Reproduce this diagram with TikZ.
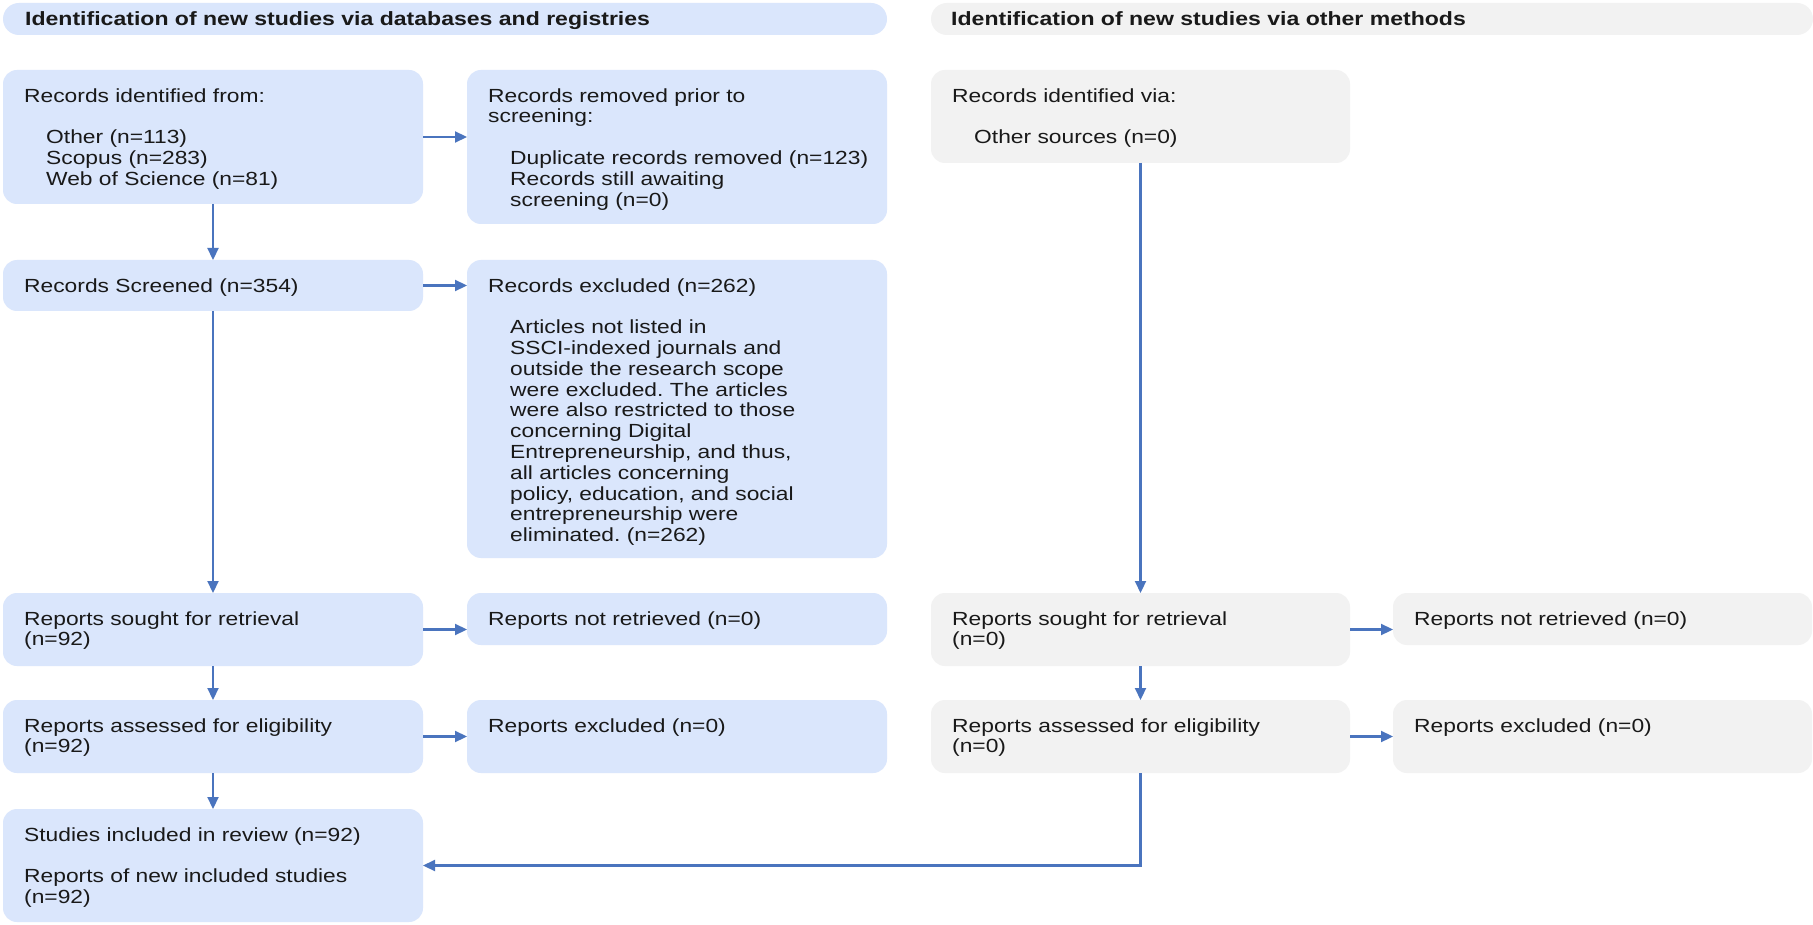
\documentclass[tikz,border=0pt]{standalone}
\usepackage{fontspec}
\setmainfont{Liberation Sans}[FakeStretch=1.2]
\usetikzlibrary{arrows.meta,calc}
\definecolor{boxblue}{HTML}{DAE6FC}
\definecolor{boxgrey}{HTML}{F2F2F2}
\definecolor{arrowblue}{HTML}{4A74BE}
\frenchspacing
\newcommand\bodyfont{\fontsize{19pt}{20.8pt}\selectfont\frenchspacing}
\newcommand\headfont{\fontsize{19.2pt}{22pt}\selectfont\bfseries}
\newcommand\ind{\hspace*{22pt}}
\tikzset{
  bluebox/.style={fill=boxblue, rounded corners=14pt, inner sep=0pt, outer sep=0pt, anchor=north west},
  greybox/.style={fill=boxgrey, rounded corners=14pt, inner sep=0pt, outer sep=0pt, anchor=north west},
  headblue/.style={fill=boxblue, rounded corners=16pt, inner sep=0pt, outer sep=0pt, anchor=north west, minimum height=32pt},
  headgrey/.style={fill=boxgrey, rounded corners=16pt, inner sep=0pt, outer sep=0pt, anchor=north west, minimum height=32pt},
  txt/.style={anchor=north west, align=left, inner sep=0pt, font=\bodyfont, text=black!90},
  htxt/.style={anchor=base west, inner sep=0pt, font=\headfont, text=black!90},
  arr/.style={draw=arrowblue, line width=2.2pt, -{Triangle[length=12pt,width=11pt]}}
}
\begin{document}
\begin{tikzpicture}[x=1pt,y=-1pt]
\useasboundingbox[fill=white] (0,0) rectangle (1813,925);
% headers
\node[headblue, minimum width=884pt] (H1) at (3,3) {};
\node[headgrey, minimum width=882pt] (H2) at (931,3) {};
\node[htxt] (h1t) at ([shift={(22,7)}]H1.west) {Identification of new studies via databases and registries};
\node[htxt] (h2t) at ([shift={(20,7)}]H2.west) {Identification of new studies via other methods};
% left column
\node[bluebox, minimum width=420pt, minimum height=134pt] (L1) at (3,70) {};
\node[bluebox, minimum width=420pt, minimum height=51pt] (L2) at (3,260) {};
\node[bluebox, minimum width=420pt, minimum height=73pt] (L3) at (3,593) {};
\node[bluebox, minimum width=420pt, minimum height=73pt] (L4) at (3,700) {};
\node[bluebox, minimum width=420pt, minimum height=113pt] (L5) at (3,809) {};
% middle column
\node[bluebox, minimum width=420pt, minimum height=154pt] (M1) at (467,70) {};
\node[bluebox, minimum width=420pt, minimum height=298pt] (M2) at (467,260) {};
\node[bluebox, minimum width=420pt, minimum height=52pt] (M3) at (467,593) {};
\node[bluebox, minimum width=420pt, minimum height=73pt] (M4) at (467,700) {};
% right columns
\node[greybox, minimum width=419pt, minimum height=93pt] (R1) at (931,70) {};
\node[greybox, minimum width=419pt, minimum height=73pt] (R3) at (931,593) {};
\node[greybox, minimum width=419pt, minimum height=73pt] (R4) at (931,700) {};
\node[greybox, minimum width=419pt, minimum height=52pt] (S3) at (1393,593) {};
\node[greybox, minimum width=419pt, minimum height=73pt] (S4) at (1393,700) {};
% texts
\node[txt] (tL1) at ([shift={(21,17.4)}]L1.north west) {\strut Records identified from:\\[20.8pt]
\ind Other (n=113)\\ \ind Scopus (n=283)\\ \ind Web of Science (n=81)};
\node[txt] (tL2) at ([shift={(21,17.4)}]L2.north west) {\strut Records Screened (n=354)};
\node[txt] (tL3) at ([shift={(21,17.4)}]L3.north west) {\strut Reports sought for retrieval\\(n=92)};
\node[txt] (tL4) at ([shift={(21,17.4)}]L4.north west) {\strut Reports assessed for eligibility\\(n=92)};
\node[txt] (tL5) at ([shift={(21,17.4)}]L5.north west) {\strut Studies included in review (n=92)\\[20.8pt]
Reports of new included studies\\(n=92)};
\node[txt] (tM1) at ([shift={(21,17.4)}]M1.north west) {\strut Records removed prior to\\screening:\\[20.8pt]
\ind Duplicate records removed (n=123)\\ \ind Records still awaiting\\ \ind screening (n=0)};
\node[txt] (tM2) at ([shift={(21,17.4)}]M2.north west) {\strut Records excluded (n=262)\\[20.8pt]
\ind Articles not listed in\\
\ind SSCI-indexed journals and\\
\ind outside the research scope\\
\ind were excluded. The articles\\
\ind were also restricted to those\\
\ind concerning Digital\\
\ind Entrepreneurship, and thus,\\
\ind all articles concerning\\
\ind policy, education, and social\\
\ind entrepreneurship were\\
\ind eliminated. (n=262)};
\node[txt] (tM3) at ([shift={(21,17.4)}]M3.north west) {\strut Reports not retrieved (n=0)};
\node[txt] (tM4) at ([shift={(21,17.4)}]M4.north west) {\strut Reports excluded (n=0)};
\node[txt] (tR1) at ([shift={(21,17.4)}]R1.north west) {\strut Records identified via:\\[20.8pt]
\ind Other sources (n=0)};
\node[txt] (tR3) at ([shift={(21,17.4)}]R3.north west) {\strut Reports sought for retrieval\\(n=0)};
\node[txt] (tR4) at ([shift={(21,17.4)}]R4.north west) {\strut Reports assessed for eligibility\\(n=0)};
\node[txt] (tS3) at ([shift={(21,17.4)}]S3.north west) {\strut Reports not retrieved (n=0)};
\node[txt] (tS4) at ([shift={(21,17.4)}]S4.north west) {\strut Reports excluded (n=0)};
% arrows
\draw[arr] (L1.east) -- (L1.east -| M1.west);
\draw[arr] (L2.east) -- (L2.east -| M2.west);
\draw[arr] (L3.east) -- (L3.east -| M3.west);
\draw[arr] (L4.east) -- (L4.east -| M4.west);
\draw[arr] (L1.south) -- (L2.north);
\draw[arr] (L2.south) -- (L3.north);
\draw[arr] (L3.south) -- (L4.north);
\draw[arr] (L4.south) -- (L5.north);
\draw[arr] (R1.south) -- (R3.north);
\draw[arr] (R3.south) -- (R4.north);
\draw[arr] (R3.east) -- (R3.east -| S3.west);
\draw[arr] (R4.east) -- (R4.east -| S4.west);
\draw[arr] (R4.south) |- (L5.east);
\end{tikzpicture}
\end{document}
